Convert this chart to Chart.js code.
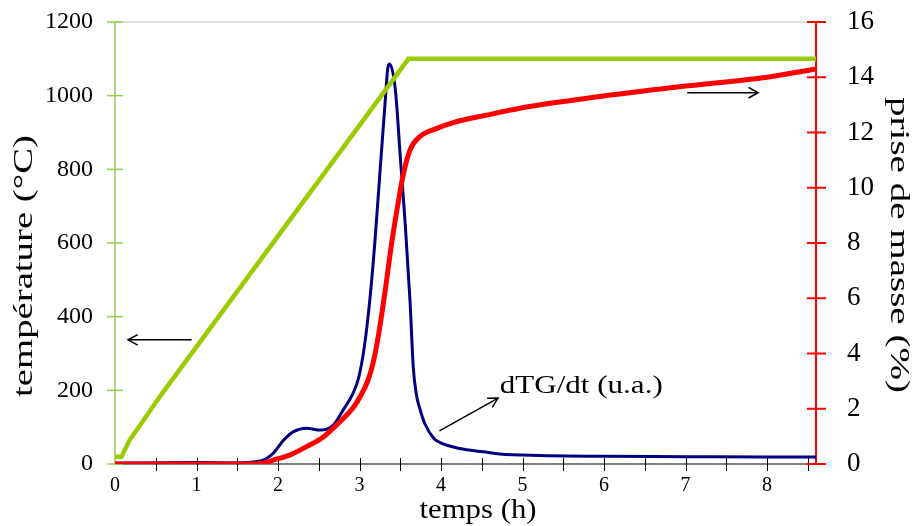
<!DOCTYPE html>
<html>
<head>
<meta charset="utf-8">
<script src="https://cdn.jsdelivr.net/npm/chart.js@4"></script>
<style>
  body { margin: 0; background: #fff; }
  #wrap { width: 917px; height: 526px; position: relative; }
</style>
</head>
<body>
<div id="wrap"><canvas id="tgChart"></canvas></div>
<script>
// temperature (left axis, °C)
const tempTime = [0, 0.08, 0.1, 0.18, 0.35, 0.55, 3.6, 8.6];
const temperature = [20, 20, 29, 65, 119, 183, 1100, 1100];

// mass gain (right axis, %)
const massTime = [0, 1.5, 1.8, 1.94, 2.15, 2.35, 2.56, 2.76, 2.93, 3.0, 3.1, 3.17, 3.24, 3.31, 3.4, 3.48, 3.54, 3.62, 3.74, 3.95, 4.15, 4.56, 4.97, 5.95, 7, 8, 8.6];
const massGain = [0, 0, 0.02, 0.14, 0.33, 0.63, 0.99, 1.53, 2.07, 2.4, 3.0, 3.7, 4.8, 6.18, 8.11, 9.56, 10.52, 11.37, 11.85, 12.15, 12.36, 12.63, 12.88, 13.3, 13.68, 14.0, 14.3];

// dTG/dt (arbitrary units, drawn on the left axis)
const dtgTime = [0, 1, 1.5, 1.78, 1.94, 2.07, 2.19, 2.35, 2.52, 2.68, 2.8, 2.92, 2.99, 3.06, 3.13, 3.19, 3.25, 3.31, 3.35, 3.37, 3.44, 3.5, 3.56, 3.62, 3.66, 3.7, 3.74, 3.8, 3.91, 3.99, 4.23, 4.52, 4.72, 5.2, 6, 7, 8, 8.6];
const dtg = [2, 4, 3, 8, 29, 65, 88, 97, 92, 106, 147, 192, 235, 320, 454, 608, 790, 970, 1079, 1086, 1015, 834, 653, 440, 260, 185, 150, 110, 70, 58, 42, 33, 27, 23, 21, 20, 19, 19];

const FONT = "'Liberation Serif', 'Times New Roman', serif";

function toPoints(xs, ys) {
  return xs.map((x, i) => ({ x: x, y: ys[i] }));
}

function line(ctx, x1, y1, x2, y2) {
  ctx.beginPath();
  ctx.moveTo(x1, y1);
  ctx.lineTo(x2, y2);
  ctx.stroke();
}

function arrow(ctx, x1, y1, x2, y2) {
  const ang = Math.atan2(y2 - y1, x2 - x1);
  const head = 11;
  ctx.strokeStyle = "#000";
  ctx.lineWidth = 1.5;
  line(ctx, x1, y1, x2, y2);
  ctx.beginPath();
  ctx.moveTo(x2 - head * Math.cos(ang - 0.5), y2 - head * Math.sin(ang - 0.5));
  ctx.lineTo(x2, y2);
  ctx.lineTo(x2 - head * Math.cos(ang + 0.5), y2 - head * Math.sin(ang + 0.5));
  ctx.stroke();
}

// the source text is drawn wider than the font, so stretch it to the measured length
function stretchText(ctx, text, x, y, angle, len, size, align, baseline) {
  ctx.save();
  ctx.font = size + "px " + FONT;
  ctx.fillStyle = "#000";
  ctx.textAlign = align;
  ctx.textBaseline = baseline;
  const w = ctx.measureText(text).width;
  ctx.translate(x, y);
  ctx.rotate(angle);
  ctx.scale(len / w, 1);
  ctx.fillText(text, 0, 0);
  ctx.restore();
}

// keep Chart.js from adding label overflow on top of the fixed padding
function noOverflow(s) {
  s.paddingTop = 0;
  s.paddingBottom = 0;
  s.paddingLeft = 0;
  s.paddingRight = 0;
}

const axesAndNotes = {
  id: "axesAndNotes",
  beforeDatasetsDraw(chart) {
    const { ctx, chartArea: a, scales } = chart;
    const x = scales.x, yT = scales.yTemp, yM = scales.yMass;
    ctx.save();
    ctx.strokeStyle = "#bfbfbf";
    ctx.lineWidth = 1;
    line(ctx, a.left, a.top, a.right, a.top);

    ctx.strokeStyle = "#000";
    ctx.lineWidth = 1;
    line(ctx, a.left, a.bottom, a.right, a.bottom);
    x.ticks.forEach((t) => {
      if (t.value === 0) return;
      const px = Math.round(x.getPixelForValue(t.value)) + 0.5;
      line(ctx, px, a.bottom - 6, px, a.bottom + 7);
    });

    ctx.strokeStyle = "#92d050";
    ctx.lineWidth = 1.5;
    line(ctx, a.left, a.top, a.left, a.bottom);
    yT.ticks.forEach((t) => {
      const py = yT.getPixelForValue(t.value);
      line(ctx, a.left - 8, py, a.left + 8, py);
    });

    ctx.strokeStyle = "#ff0000";
    ctx.lineWidth = 2;
    line(ctx, a.right, a.top, a.right, a.bottom);
    yM.ticks.forEach((t) => {
      const py = yM.getPixelForValue(t.value);
      line(ctx, a.right - 9, py, a.right + 10, py);
    });
    ctx.restore();
  },
  afterDraw(chart) {
    const { ctx, scales } = chart;
    const x = scales.x, yT = scales.yTemp, yM = scales.yMass;
    ctx.save();
    arrow(ctx, x.getPixelForValue(0.94), yT.getPixelForValue(337), x.getPixelForValue(0.16), yT.getPixelForValue(337));
    arrow(ctx, x.getPixelForValue(7.02), yM.getPixelForValue(13.44), x.getPixelForValue(7.89), yM.getPixelForValue(13.44));
    arrow(ctx, x.getPixelForValue(3.98), yT.getPixelForValue(90), x.getPixelForValue(4.7), yT.getPixelForValue(179));

    stretchText(ctx, "dTG/dt (u.a.)", x.getPixelForValue(4.72), yT.getPixelForValue(193), 0, 163, 26, "left", "alphabetic");
    stretchText(ctx, "température (°C)", 25, 266, -Math.PI / 2, 262, 27, "center", "middle");
    stretchText(ctx, "prise de masse (%)", 898, 245, Math.PI / 2, 296, 27, "center", "middle");
    stretchText(ctx, "temps (h)", 478, 518, 0, 117, 27, "center", "alphabetic");
    ctx.restore();
  }
};

new Chart(document.getElementById("tgChart"), {
  type: "line",
  data: {
    datasets: [
      {
        label: "température",
        data: toPoints(tempTime, temperature),
        yAxisID: "yTemp",
        borderColor: "#99cc00",
        borderWidth: 4.5,
        pointRadius: 0,
        tension: 0,
        order: 0
      },
      {
        label: "prise de masse",
        data: toPoints(massTime, massGain),
        yAxisID: "yMass",
        borderColor: "#ff0000",
        borderWidth: 5,
        pointRadius: 0,
        cubicInterpolationMode: "monotone",
        order: 1
      },
      {
        label: "dTG/dt",
        data: toPoints(dtgTime, dtg),
        yAxisID: "yTemp",
        borderColor: "#000080",
        borderWidth: 3,
        pointRadius: 0,
        cubicInterpolationMode: "monotone",
        order: 2
      }
    ]
  },
  options: {
    responsive: true,
    maintainAspectRatio: false,
    animation: false,
    layout: { padding: { top: 22, left: 0, right: 0, bottom: 0 } },
    plugins: { legend: { display: false }, tooltip: { enabled: false } },
    scales: {
      x: {
        type: "linear",
        min: 0,
        max: 8.6,
        grid: { display: false, drawTicks: false },
        border: { display: false },
        afterFit: (s) => { s.height = 62; noOverflow(s); },
        ticks: {
          stepSize: 0.5,
          includeBounds: false,
          autoSkip: false,
          maxRotation: 0,
          padding: 10,
          color: "#000",
          font: { family: FONT, size: 20 },
          callback: (v) => (Math.abs(v - Math.round(v)) < 1e-6 ? String(Math.round(v)) : "")
        }
      },
      yTemp: {
        position: "left",
        min: 0,
        max: 1200,
        grid: { display: false, drawTicks: false },
        border: { display: false },
        afterFit: (s) => { s.width = 115; noOverflow(s); },
        ticks: { stepSize: 200, padding: 22, color: "#000", font: { family: FONT, size: 24 }, callback: (v) => String(v) }
      },
      yMass: {
        position: "right",
        min: 0,
        max: 16,
        grid: { display: false, drawTicks: false },
        border: { display: false },
        afterFit: (s) => { s.width = 101; noOverflow(s); },
        ticks: { stepSize: 2, padding: 31, color: "#000", font: { family: FONT, size: 27 }, callback: (v) => String(v) }
      }
    }
  },
  plugins: [axesAndNotes]
});
</script>
</body>
</html>
